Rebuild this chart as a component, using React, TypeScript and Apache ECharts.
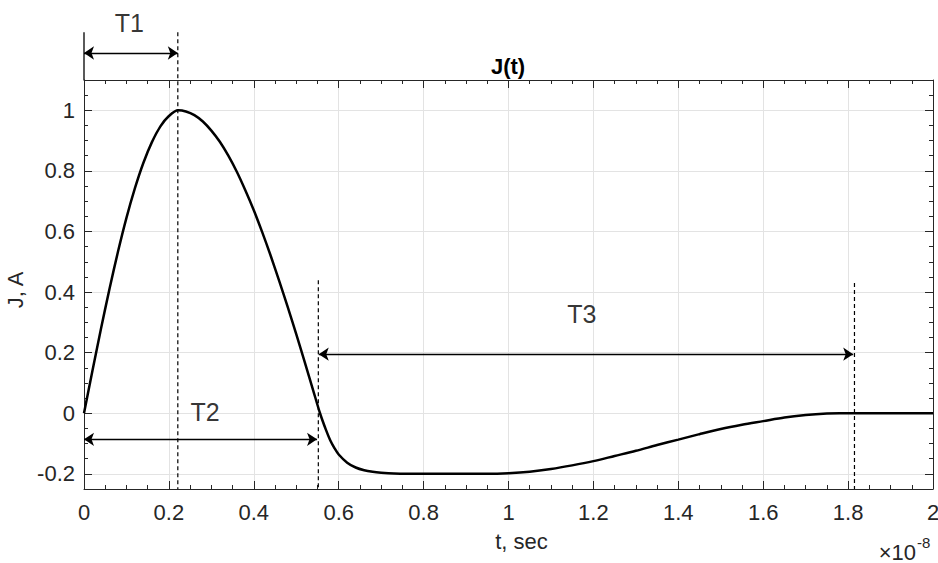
import React, { useEffect, useRef } from "react";
import * as echarts from "echarts";

// Time axis (units of 1e-8 s) and current J (A)
const tValues = [
  0, 0.02, 0.04, 0.06, 0.08, 0.1, 0.12, 0.14, 0.16, 0.18, 0.2, 0.222, 0.24, 0.26, 0.28, 0.3,
  0.32, 0.34, 0.36, 0.38, 0.4, 0.42, 0.44, 0.46, 0.48, 0.5, 0.52, 0.54, 0.556, 0.57, 0.58,
  0.59, 0.6, 0.62, 0.64, 0.66, 0.68, 0.7, 0.73, 0.76, 0.85, 0.95, 1.0, 1.05, 1.1, 1.15, 1.2,
  1.25, 1.3, 1.35, 1.4, 1.45, 1.5, 1.55, 1.6, 1.65, 1.7, 1.75, 1.78, 1.85, 2.0,
];
const jValues = [
  0, 0.141, 0.279, 0.41, 0.533, 0.645, 0.743, 0.827, 0.895, 0.947, 0.981, 1.0, 0.996, 0.984,
  0.963, 0.933, 0.896, 0.85, 0.797, 0.736, 0.67, 0.597, 0.519, 0.436, 0.35, 0.261, 0.169,
  0.075, 0, -0.055, -0.089, -0.115, -0.136, -0.163, -0.179, -0.188, -0.193, -0.196, -0.199,
  -0.2, -0.2, -0.2, -0.198, -0.193, -0.184, -0.172, -0.158, -0.141, -0.124, -0.105, -0.087,
  -0.069, -0.052, -0.038, -0.026, -0.014, -0.006, -0.001, 0, 0, 0,
];

const xTickLabels = ["0", "0.2", "0.4", "0.6", "0.8", "1", "1.2", "1.4", "1.6", "1.8", "2"];
const yTickValues = [-0.2, 0, 0.2, 0.4, 0.6, 0.8, 1];
const yTickLabels = ["-0.2", "0", "0.2", "0.4", "0.6", "0.8", "1"];

// Interval annotations
const intervalNames = ["T1", "T2", "T3"];
const arrowStart = [0, 0, 0.553];
const arrowEnd = [0.221, 0.549, 1.812];
const arrowLevel = [1.189, -0.086, 0.195];
const labelT = [0.107, 0.285, 1.173];
const labelJ = [1.288, 0.003, 0.327];
const markerT = [0.221, 0.552, 1.815];
const markerTop = [1.258, 0.439, 0.43];
const axisExtensionTop = 1.258;

const FONT = "'Liberation Sans', Arial, Helvetica, sans-serif";
const AXIS_COLOR = "#262626";
const GRID_COLOR = "#e3e3e3";

export default function App() {
  const ref = useRef<HTMLDivElement>(null);

  useEffect(() => {
    if (!ref.current) return;
    document.body.style.margin = "0";
    const chart = echarts.init(ref.current, null, { renderer: "svg" });

    const curve = tValues.map((t, i) => [t, jValues[i]]);

    const grid = {
      left: 84,
      top: 80,
      width: 849,
      height: 409,
      containLabel: false,
      outerBoundsMode: "none",
    };

    const xBase = {
      type: "value",
      min: 0,
      max: 2,
      interval: 0.2,
      axisLine: { show: true, onZero: false, lineStyle: { color: AXIS_COLOR, width: 1 } },
      axisTick: { show: true, inside: true, length: 8, lineStyle: { color: AXIS_COLOR } },
      minorTick: { show: true, splitNumber: 4, length: 4, lineStyle: { color: AXIS_COLOR } },
    };

    const yMajor = {
      type: "value",
      min: -0.25,
      max: 1.1,
      axisLine: { show: true, onZero: false, lineStyle: { color: AXIS_COLOR, width: 1 } },
      axisTick: {
        show: true,
        inside: true,
        length: 8,
        customValues: yTickValues,
        lineStyle: { color: AXIS_COLOR },
      },
    };
    const yMinor = {
      type: "value",
      min: -0.25,
      max: 1.1,
      interval: 0.05,
      axisLine: { show: false, onZero: false },
      axisTick: { show: true, inside: true, length: 4, lineStyle: { color: AXIS_COLOR } },
      axisLabel: { show: false },
      splitLine: { show: false },
    };

    const dashedSeries = markerT.map((t, i) => ({
      type: "line",
      data: [
        [t, markerTop[i]],
        [t, -0.25],
      ],
      showSymbol: false,
      symbol: "none",
      clip: false,
      silent: true,
      lineStyle: { color: "#000", width: 1.2, type: [4, 3] },
      z: 5,
    }));

    const option: any = {
      animation: false,
      backgroundColor: "#fff",
      grid,
      xAxis: [
        {
          ...xBase,
          position: "bottom",
          axisLabel: {
            show: true,
            margin: 12,
            fontSize: 22,
            fontFamily: FONT,
            color: AXIS_COLOR,
            formatter: (v: number) => xTickLabels[Math.round(v / 0.2)] ?? "",
          },
          splitLine: { show: true, lineStyle: { color: GRID_COLOR, width: 1 } },
          name: "t, sec",
          nameLocation: "middle",
          nameGap: 41,
          nameTextStyle: {
            fontSize: 22,
            fontFamily: FONT,
            color: AXIS_COLOR,
            padding: [0, 0, 0, 26],
          },
        },
        {
          ...xBase,
          position: "top",
          axisLabel: { show: false },
          splitLine: { show: false },
        },
      ],
      yAxis: [
        {
          ...yMajor,
          position: "left",
          axisLabel: {
            show: true,
            margin: 9,
            fontSize: 22,
            fontFamily: FONT,
            color: AXIS_COLOR,
            customValues: yTickValues,
            formatter: (v: number) => {
              const idx = yTickValues.findIndex((y) => Math.abs(y - v) < 1e-6);
              return idx >= 0 ? yTickLabels[idx] : "";
            },
          },
          splitLine: { show: true, lineStyle: { color: GRID_COLOR, width: 1 } },
          name: "J, A",
          nameLocation: "middle",
          nameGap: 50,
          nameRotate: 90,
          nameTextStyle: {
            fontSize: 22,
            fontFamily: FONT,
            color: AXIS_COLOR,
            padding: [0, 11, 0, 0],
          },
        },
        { ...yMinor, position: "left" },
        {
          ...yMajor,
          position: "right",
          axisLabel: { show: false },
          splitLine: { show: false },
        },
        { ...yMinor, position: "right" },
      ],
      graphic: [
        {
          type: "text",
          x: 508,
          y: 66,
          style: {
            text: "J(t)",
            align: "center",
            verticalAlign: "middle",
            fontSize: 22,
            fontWeight: "bold",
            fontFamily: FONT,
            fill: "#000",
          },
        },
        {
          type: "text",
          x: 916,
          y: 552,
          style: {
            text: "×10",
            align: "right",
            verticalAlign: "middle",
            fontSize: 22,
            fontFamily: FONT,
            fill: AXIS_COLOR,
          },
        },
        {
          type: "text",
          x: 917,
          y: 542,
          style: {
            text: "-8",
            align: "left",
            verticalAlign: "middle",
            fontSize: 15,
            fontFamily: FONT,
            fill: AXIS_COLOR,
          },
        },
      ],
      series: [
        {
          type: "line",
          name: "J(t)",
          data: curve,
          showSymbol: false,
          symbol: "none",
          smooth: 0.3,
          lineStyle: { color: "#000", width: 2.5 },
          z: 10,
        },
        ...dashedSeries,
        {
          type: "line",
          data: [
            [0, 1.1],
            [0, axisExtensionTop],
          ],
          showSymbol: false,
          symbol: "none",
          clip: false,
          silent: true,
          lineStyle: { color: "#000", width: 1.3 },
        },
        {
          type: "lines",
          coordinateSystem: "cartesian2d",
          clip: false,
          silent: true,
          symbol: ["arrow", "arrow"],
          symbolSize: 10,
          lineStyle: { color: "#000", width: 1.3, opacity: 1, curveness: 0 },
          data: intervalNames.map((n, i) => ({
            name: n,
            coords: [
              [arrowStart[i], arrowLevel[i]],
              [arrowEnd[i], arrowLevel[i]],
            ],
          })),
          z: 6,
        },
        {
          type: "scatter",
          clip: false,
          silent: true,
          symbolSize: 0,
          data: intervalNames.map((n, i) => ({ name: n, value: [labelT[i], labelJ[i]] })),
          label: {
            show: true,
            position: "inside",
            formatter: "{b}",
            fontSize: 25,
            fontFamily: FONT,
            color: "#000",
          },
          z: 7,
        },
      ],
    };

    chart.setOption(option);
    return () => chart.dispose();
  }, []);

  return (
    <div
      ref={ref}
      style={{ position: "absolute", left: 0, top: 0, width: 938, height: 563 }}
    />
  );
}
